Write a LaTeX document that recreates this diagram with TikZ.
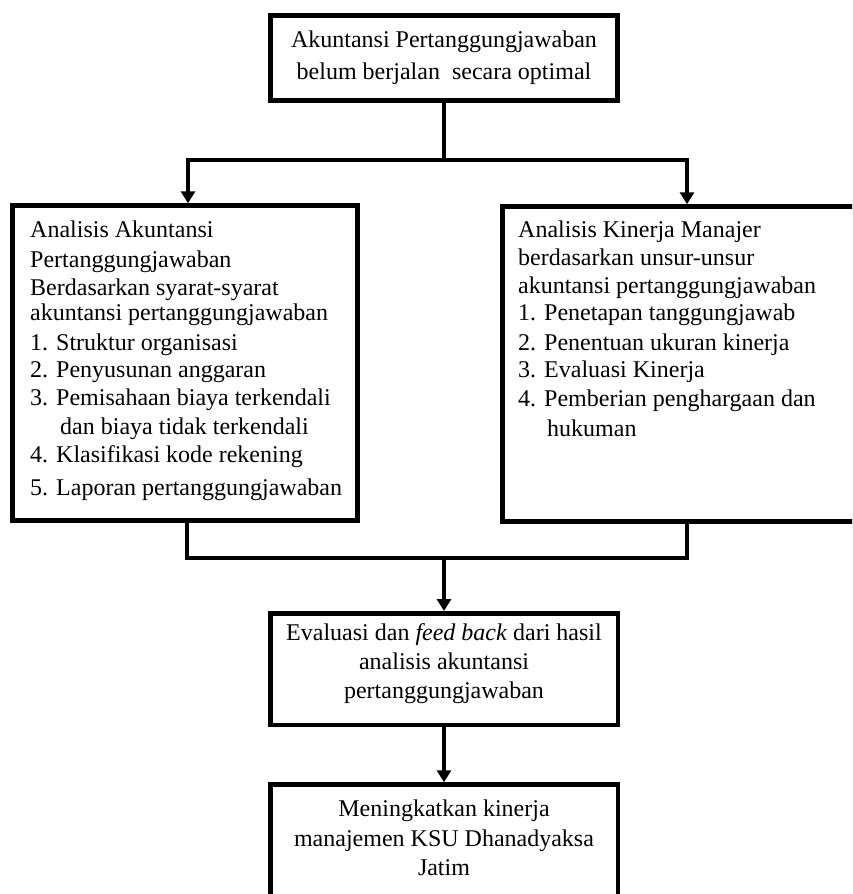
\documentclass[tikz,border=0pt]{standalone}
\usepackage{fontspec}
\setmainfont{Liberation Serif}
\usetikzlibrary{arrows.meta}
\begin{document}
\begin{tikzpicture}[x=1pt,y=-1pt,
  box/.style={draw, line width=4.5pt, inner sep=0pt},
  lw/.style={line width=4.5pt},
  arr/.style={line width=4.5pt, -{Triangle[width=14pt,length=12pt]}},
  txt/.style={anchor=base west, inner sep=0pt, font=\fontsize{24}{28}\selectfont},
  ctxt/.style={anchor=base, inner sep=0pt, font=\fontsize{24}{28}\selectfont}]
\clip (0,0) rectangle (852,894);
\fill[white] (0,0) rectangle (852,894);
% boxes
\node[box, minimum width=347pt, minimum height=85pt] (top) at (444,58) {};
\node[box, minimum width=345pt, minimum height=315pt] (left) at (185,363) {};
\node[box, minimum width=362pt, minimum height=315pt] (right) at (683.5,364) {};
\node[box, minimum width=347.5pt, minimum height=111.5pt] (mid) at (444,669) {};
\node[box, minimum width=347.5pt, minimum height=120pt] (bot) at (444,844.5) {};
% top text
\node[ctxt] (t1) at (444,47) {Akuntansi Pertanggungjawaban};
\node[ctxt] (t2) at (444,79) {belum berjalan~ secara optimal};
% left text
\node[txt] (l1) at (30,237) {Analisis Akuntansi};
\node[txt] (l2) at (30,267) {Pertanggungjawaban};
\node[txt] (l3) at (30,295) {Berdasarkan syarat-syarat};
\node[txt] (l4) at (30,320) {akuntansi pertanggungjawaban};
\node[txt] (l5) at (30,350) {1. Struktur organisasi};
\node[txt] (l6) at (30,377) {2. Penyusunan anggaran};
\node[txt] (l7) at (30,405) {3. Pemisahaan biaya terkendali};
\node[txt] (l8) at (60,434) {dan biaya tidak terkendali};
\node[txt] (l9) at (30,462) {4. Klasifikasi kode rekening};
\node[txt] (l10) at (30,495) {5. Laporan pertanggungjawaban};
% right text
\node[txt] (r1) at (518,237) {Analisis Kinerja Manajer};
\node[txt] (r2) at (518,265) {berdasarkan unsur-unsur};
\node[txt] (r3) at (518,293) {akuntansi pertanggungjawaban};
\node[txt] (r4) at (518,320) {1. Penetapan tanggungjawab};
\node[txt] (r5) at (518,350) {2. Penentuan ukuran kinerja};
\node[txt] (r6) at (518,377) {3. Evaluasi Kinerja};
\node[txt] (r7) at (518,406) {4. Pemberian penghargaan dan};
\node[txt] (r8) at (547,436) {hukuman};
% middle text
\node[ctxt] (m1) at (444,640) {Evaluasi dan \textit{feed back} dari hasil};
\node[ctxt] (m2) at (444,669) {analisis akuntansi};
\node[ctxt] (m3) at (444,698) {pertanggungjawaban};
% bottom text
\node[ctxt] (b1) at (444,816) {Meningkatkan kinerja};
\node[ctxt] (b2) at (444,846) {manajemen KSU Dhanadyaksa};
\node[ctxt] (b3) at (444,875) {Jatim};
% connectors
\coordinate (busL) at (188,160);
\coordinate (busR) at (687,160);
\coordinate (j1) at (187,558);
\coordinate (j2) at (687,558);
\draw[lw] (top.south) -- (top.south |- busL);
\draw[arr] (top.south |- busL) -- (busL) -- (busL |- left.north);
\draw[arr] (top.south |- busR) -- (busR) -- (busR |- right.north);
\draw[lw] (j1 |- left.south) -- (j1) -- (j2) -- (j2 |- right.south);
\draw[arr] (mid.north |- j1) -- (mid.north);
\draw[arr] (mid.south) -- (bot.north);
\end{tikzpicture}
\end{document}
